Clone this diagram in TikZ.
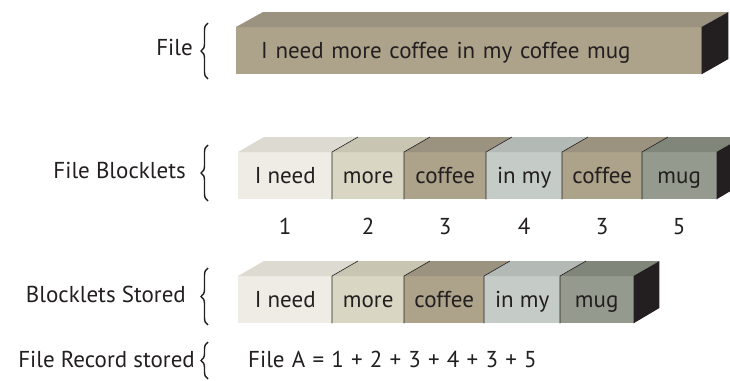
\documentclass[tikz,border=0pt]{standalone}
\usepackage{fontspec}
\setmainfont{PT Sans}
\usetikzlibrary{decorations.pathreplacing}

\definecolor{ink}{HTML}{231F20}
\definecolor{needF}{HTML}{EFECE5}
\definecolor{needT}{HTML}{DDDBD1}
\definecolor{moreF}{HTML}{D9D7C4}
\definecolor{moreT}{HTML}{C8C6B3}
\definecolor{cofF}{HTML}{ADA38A}
\definecolor{cofT}{HTML}{9B927F}
\definecolor{inmyF}{HTML}{C5CBC6}
\definecolor{inmyT}{HTML}{B3B9B5}
\definecolor{mugF}{HTML}{949A8D}
\definecolor{mugT}{HTML}{80867A}

\tikzset{
  blk/.style={rectangle, anchor=north west, minimum height=47, inner sep=0pt,
    text height=16pt, text depth=0pt},
  lbl/.style={anchor=base east},
  curly/.style={decorate, decoration={brace, amplitude=7pt}, line width=1.4pt, ink}
}

\begin{document}
\begin{tikzpicture}[x=1pt, y=-1pt, inner sep=0pt, text=ink,
  font=\fontsize{23}{27}\selectfont]
\useasboundingbox (0,0) rectangle (730,380);

% labels on the left
\node[lbl] (lfile) at (193,55) {File};
\node[lbl] (lblock) at (186,178) {File Blocklets};
\node[lbl] (lstore) at (186,302) {Blocklets Stored};
\node[lbl] (lrec) at (195,367) {File Record stored};

\draw[curly] (208,79) -- (208,23);
\draw[curly] (208,201) -- (208,145);
\draw[curly] (208,325) -- (208,268);
\draw[curly] (208,379) -- (208,342);

% whole file
\node[blk, fill=cofF, minimum width=465, inner xsep=25pt, text width=415pt, align=left] (file) at (236,27) {I need more coffee in my coffee mug};
\fill[cofT] (file.north west) -- ++(27,-15) -- ([shift={(27,-15)}]file.north east) -- (file.north east) -- cycle;
\fill[ink] (file.north east) -- ++(27,-15) -- ++(0,47) -- (file.south east) -- cycle;

% blocklets
\foreach \i/\x/\w/\f/\t/\s/\n in {1/238/94/needF/needT/I need/1, 2/332/72/moreF/moreT/more/2,
    3/404/82/cofF/cofT/coffee/3, 4/486/76/inmyF/inmyT/in my/4,
    5/562/80/cofF/cofT/coffee/3, 6/642/74/mugF/mugT/mug/5}{
  \node[blk, fill=\f, minimum width=\w] (b\i) at (\x,152) {\s};
  \fill[\t] (b\i.north west) -- ++(26,-15) -- ([shift={(26,-15)}]b\i.north east) -- (b\i.north east) -- cycle;
  \node[anchor=base] (n\i) at (b\i.center |- 0,234) {\n};
}
\foreach \i in {2,...,6}
  \draw[ink, line width=0.6pt] (b\i.south west) -- (b\i.north west) -- ++(26,-15);
\fill[ink] (b6.north east) -- ++(26,-15) -- ++(0,47) -- (b6.south east) -- cycle;

% blocklets stored
\foreach \i/\x/\w/\f/\t/\s in {1/238/94/needF/needT/I need, 2/332/72/moreF/moreT/more,
    3/404/80/cofF/cofT/coffee, 4/484/76/inmyF/inmyT/in my, 5/560/73/mugF/mugT/mug}{
  \node[blk, fill=\f, minimum width=\w] (s\i) at (\x,276) {\s};
  \fill[\t] (s\i.north west) -- ++(26,-15) -- ([shift={(26,-15)}]s\i.north east) -- (s\i.north east) -- cycle;
}
\foreach \i in {2,...,5}
  \draw[ink, line width=0.6pt] (s\i.south west) -- (s\i.north west) -- ++(26,-15);
\fill[ink] (s5.north east) -- ++(26,-15) -- ++(0,47) -- (s5.south east) -- cycle;

% file record
\node[anchor=base west] (rec) at (248,367) {\spaceskip=7.2pt File A = 1 + 2 + 3 + 4 + 3 + 5};

\end{tikzpicture}
\end{document}
